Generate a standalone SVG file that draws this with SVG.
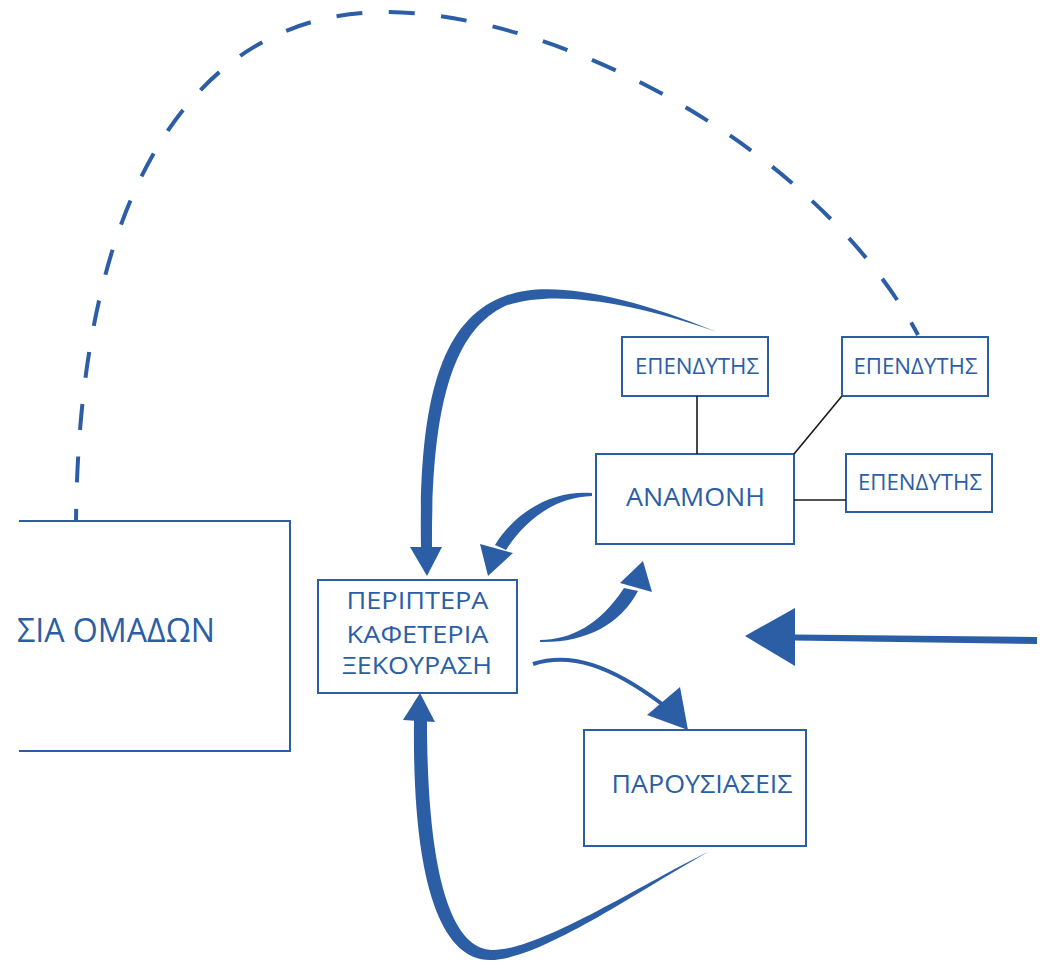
<svg xmlns="http://www.w3.org/2000/svg" width="1044" height="961" viewBox="0 0 1044 961">
<style>
.box{fill:#fff;stroke:#2C5EA5;stroke-width:2}
.t{font-family:"Open Sans","Noto Sans","DejaVu Sans",sans-serif;fill:#2C5EA5;text-anchor:middle}
.ts{font-family:"Open Sans","Noto Sans","DejaVu Sans",sans-serif;fill:#2C5EA5}
.fb{fill:#2C5EA5;stroke:none}
.sb{fill:none;stroke:#2C5EA5}
.link{stroke:#1a1a1a;stroke-width:1.6;fill:none}
.dash{fill:none;stroke:#2C5EA5;stroke-width:4;stroke-dasharray:26 26.5}
</style>
<rect width="1044" height="961" fill="#fff"/>

<g id="node-omades">
  <path d="M19,521 H290 V751 H19" fill="#fff" stroke="#2C5EA5" stroke-width="2"/>
  <text class="ts" x="17" y="642" font-size="32" textLength="198" lengthAdjust="spacingAndGlyphs">ΣΙΑ ΟΜΑΔΩΝ</text>
</g>

<g id="node-periptera">
  <rect class="box" x="318" y="580" width="199" height="113"/>
  <text class="t" x="417.5" y="609" font-size="24" textLength="142" lengthAdjust="spacingAndGlyphs">ΠΕΡΙΠΤΕΡΑ</text>
  <text class="t" x="417.5" y="643" font-size="24" textLength="142" lengthAdjust="spacingAndGlyphs">ΚΑΦΕΤΕΡΙΑ</text>
  <text class="t" x="417" y="674" font-size="24" textLength="150" lengthAdjust="spacingAndGlyphs">ΞΕΚΟΥΡΑΣΗ</text>
</g>

<g id="node-anamoni">
  <rect class="box" x="596" y="454" width="198" height="90"/>
  <text class="t" x="695.5" y="506" font-size="26" textLength="139" lengthAdjust="spacingAndGlyphs">ΑΝΑΜΟΝΗ</text>
</g>

<g id="node-ependytis-1">
  <rect class="box" x="622" y="337" width="146" height="59"/>
  <text class="t" x="697" y="374" font-size="21" textLength="124" lengthAdjust="spacingAndGlyphs">ΕΠΕΝΔΥΤΗΣ</text>
</g>

<g id="node-ependytis-2">
  <rect class="box" x="842" y="337" width="146" height="59"/>
  <text class="t" x="915.5" y="374" font-size="21" textLength="124" lengthAdjust="spacingAndGlyphs">ΕΠΕΝΔΥΤΗΣ</text>
</g>

<g id="node-ependytis-3">
  <rect class="box" x="846" y="454" width="146" height="58"/>
  <text class="t" x="920" y="490" font-size="21" textLength="124" lengthAdjust="spacingAndGlyphs">ΕΠΕΝΔΥΤΗΣ</text>
</g>

<g id="node-parousiaseis">
  <rect class="box" x="584" y="730" width="222" height="116"/>
  <text class="t" x="702" y="793" font-size="26" textLength="181" lengthAdjust="spacingAndGlyphs">ΠΑΡΟΥΣΙΑΣΕΙΣ</text>
</g>

<g id="connectors">
  <!-- dashed arc from omades to ependytis 2 -->
  <path class="dash" stroke-dashoffset="14" d="M76,521 C80,150 220,12 385,12 C560,12 820,150 918,335"/>

  <!-- black links -->
  <line class="link" x1="697" y1="396" x2="697" y2="454"/>
  <line class="link" x1="794" y1="454" x2="842" y2="396"/>
  <line class="link" x1="794" y1="500" x2="846" y2="500"/>

  <!-- ependytis 1 -> periptera (big tapered curve) -->
  <path class="fb" d="M717,332 C620,292 545,280 505,296 C445,318 418,390 421,547 L432,547 C431,400 455,330 505,306 C550,290 625,300 717,332 Z"/>
  <polygon class="fb" points="410,547 442,547 427,576"/>

  <!-- anamoni -> periptera -->
  <path class="fb" d="M592,493 C560,490 520,505 495,545 L506,550 C525,520 555,497 592,496 Z"/>
  <polygon class="fb" points="480,544 513,553 488,576"/>

  <!-- periptera -> anamoni -->
  <path class="fb" d="M540,640 C570,640 600,625 624,588 L638,591 C620,625 585,643 540,642 Z"/>
  <polygon class="fb" points="620,583 652,592 643,561"/>

  <!-- periptera -> parousiaseis -->
  <path class="sb" stroke-width="4" d="M533,664 C570,652 610,665 662,704"/>
  <polygon class="fb" points="647,715 680,687 688,730"/>

  <!-- parousiaseis -> periptera (bottom loop) -->
  <path class="fb" d="M708,852 C640,890 540,960 490,960 C440,960 412,880 414,720 L427,720 C427,870 450,950 493,950 C540,950 640,885 708,852 Z"/>
  <polygon class="fb" points="403,720 435,722 420,693"/>

  <!-- incoming arrow from the right -->
  <path class="fb" d="M794,634.5 L1037,637 L1037,644 L794,640.5 Z"/>
  <polygon class="fb" points="795,608 795,666 745,636"/>
</g>
</svg>
